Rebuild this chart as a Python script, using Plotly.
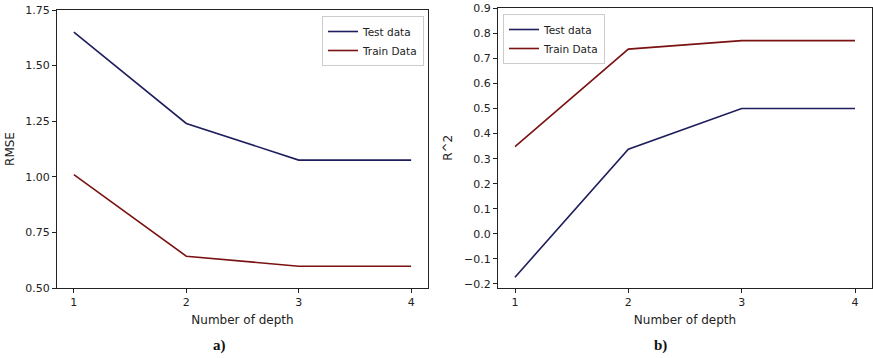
import plotly.graph_objects as go

depth = [1, 2, 3, 4]
rmse_test = [1.65, 1.24, 1.075, 1.075]
rmse_train = [1.01, 0.643, 0.598, 0.598]
r2_test = [-0.173, 0.338, 0.50, 0.50]
r2_train = [0.348, 0.737, 0.771, 0.771]

C_TEST = "#1e1e5c"
C_TRAIN = "#7a1212"
FONT = "DejaVu Sans"

fig = go.Figure()
fig.add_trace(go.Scatter(x=depth, y=rmse_test, mode="lines", name="Test data",
                         line=dict(color=C_TEST, width=1.6), xaxis="x", yaxis="y", legend="legend"))
fig.add_trace(go.Scatter(x=depth, y=rmse_train, mode="lines", name="Train Data",
                         line=dict(color=C_TRAIN, width=1.6), xaxis="x", yaxis="y", legend="legend"))
fig.add_trace(go.Scatter(x=depth, y=r2_test, mode="lines", name="Test data",
                         line=dict(color=C_TEST, width=1.6), xaxis="x2", yaxis="y2", legend="legend2"))
fig.add_trace(go.Scatter(x=depth, y=r2_train, mode="lines", name="Train Data",
                         line=dict(color=C_TRAIN, width=1.6), xaxis="x2", yaxis="y2", legend="legend2"))

axcommon = dict(showline=True, linecolor="#222", linewidth=1, mirror=True, ticks="outside",
                ticklen=4, tickcolor="#222", showgrid=False, zeroline=False, automargin=False,
                tickfont=dict(family=FONT, size=11, color="#222"))

fig.update_layout(
    width=873, height=358, margin=dict(l=0, r=0, t=0, b=0, autoexpand=False),
    paper_bgcolor="white", plot_bgcolor="white",
    font=dict(family=FONT, size=11, color="#222"),
    xaxis=dict(domain=[57/873, 428/873], range=[0.85, 4.15], tickvals=depth, anchor="y",
               title=dict(text="Number of depth", font=dict(size=12), standoff=7), **axcommon),
    yaxis=dict(domain=[1-288/358, 1-10/358], range=[0.5, 1.75], anchor="x",
               tickvals=[0.5, 0.75, 1.0, 1.25, 1.5, 1.75], tickformat=".2f",
               title=dict(text="RMSE", font=dict(size=12), standoff=8), **axcommon),
    xaxis2=dict(domain=[498/873, 872/873], range=[0.85, 4.15], tickvals=depth, anchor="y2",
                title=dict(text="Number of depth", font=dict(size=12), standoff=7), **axcommon),
    yaxis2=dict(domain=[1-288/358, 1-7.5/358], range=[-0.216, 0.903], anchor="x2",
                tickvals=[-0.2, -0.1, 0, 0.1, 0.2, 0.3, 0.4, 0.5, 0.6, 0.7, 0.8, 0.9],
                ticktext=["\u22120.2", "\u22120.1", "0.0", "0.1", "0.2", "0.3", "0.4", "0.5", "0.6", "0.7", "0.8", "0.9"],
                title=dict(text="R^2", font=dict(size=12), standoff=8), **axcommon),
    legend=dict(x=424/873, y=1-16/358, xanchor="right", yanchor="top",
                bordercolor="#ccc", borderwidth=1, bgcolor="white",
                font=dict(family=FONT, size=10.5), tracegroupgap=0, itemwidth=30),
    legend2=dict(x=503/873, y=1-14/358, xanchor="left", yanchor="top",
                 bordercolor="#ccc", borderwidth=1, bgcolor="white",
                 font=dict(family=FONT, size=10.5), tracegroupgap=0, itemwidth=30),
    annotations=[
        dict(text="<b>a)</b>", x=219/873, y=1-345/358, xref="paper", yref="paper",
             xanchor="center", yanchor="middle",
             showarrow=False, font=dict(family="Liberation Serif", size=15, color="#111")),
        dict(text="<b>b)</b>", x=660/873, y=1-345/358, xref="paper", yref="paper",
             xanchor="center", yanchor="middle",
             showarrow=False, font=dict(family="Liberation Serif", size=15, color="#111")),
    ],
)

fig.write_html("out.html")
